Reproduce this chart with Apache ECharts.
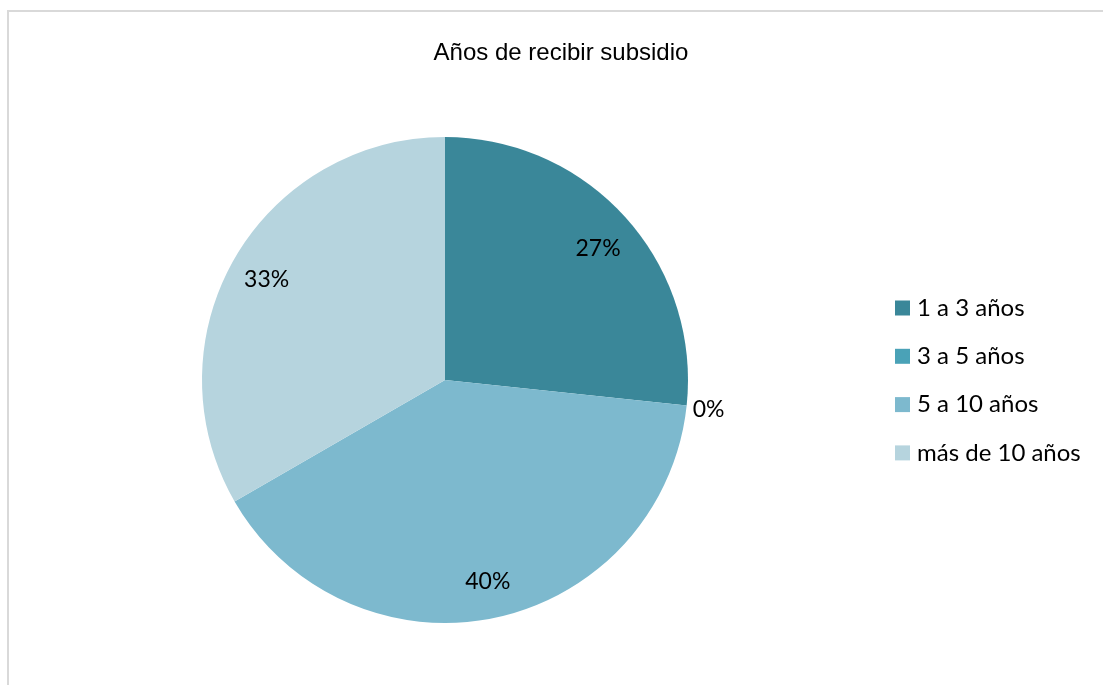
<!DOCTYPE html>
<html>
<head>
<meta charset="utf-8">
<script src="https://cdn.jsdelivr.net/npm/echarts@6/dist/echarts.min.js"></script>
<style>
  html, body { margin: 0; padding: 0; background: #fff; }
  #chart { width: 1103px; height: 685px; }
</style>
</head>
<body>
<div id="chart"></div>
<script>
// Categories, counts and colours of the pie
const categories = ['1 a 3 años', '3 a 5 años', '5 a 10 años', 'más de 10 años'];
const counts = [16, 0, 24, 20];
const colors = ['#3a8799', '#4aa2b7', '#7db9ce', '#b6d4de'];
const titleText = 'Años de recibir subsidio';

const chart = echarts.init(document.getElementById('chart'), null, { renderer: 'canvas' });

const center = [445, 380];
const labelFont = 'Lato, "Noto Sans", sans-serif';

const pieData = categories.map((name, i) => ({
  name: name,
  value: counts[i],
  itemStyle: { color: colors[i] }
}));

// Transparent ring used only to place the percentage labels
const labelData = categories.map((name, i) => {
  const item = { name: name, value: counts[i], itemStyle: { color: 'rgba(0,0,0,0)' } };
  if (counts[i] === 0) {
    item.label = { position: 'outside', distanceToLabelLine: 0 };
    item.labelLine = { show: false, length: 2, length2: 0 };
  }
  return item;
});

// Small nudges of individual percentage labels
const labelNudge = [{ dy: 6 }, { dx: 4, dy: 4 }, {}, { dy: 3 }];

chart.setOption({
  animation: false,
  color: colors,
  graphic: [{
    type: 'rect',
    shape: { x: 8, y: 11, width: 1200, height: 800 },
    style: { fill: 'none', stroke: '#d9d9d9', lineWidth: 2 },
    silent: true
  }],
  title: {
    text: titleText,
    left: 556,
    textAlign: 'center',
    top: 36,
    textStyle: {
      fontFamily: '"Liberation Sans", Arial, sans-serif',
      fontSize: 24,
      fontWeight: 'normal',
      color: '#000'
    }
  },
  legend: {
    orient: 'vertical',
    left: 895,
    top: 296,
    padding: 0,
    icon: 'rect',
    itemWidth: 15,
    itemHeight: 15,
    itemGap: 24.3,
    data: categories,
    textStyle: {
      fontFamily: labelFont,
      fontSize: 24,
      lineHeight: 24,
      color: '#000',
      padding: [0, 0, 0, 2]
    }
  },
  series: [
    {
      type: 'pie',
      center: center,
      radius: [0, 243],
      startAngle: 90,
      clockwise: true,
      silent: true,
      label: { show: false },
      labelLine: { show: false },
      itemStyle: { borderWidth: 0 },
      data: pieData
    },
    {
      type: 'pie',
      center: center,
      radius: [163, 243],
      startAngle: 90,
      clockwise: true,
      silent: true,
      avoidLabelOverlap: false,
      legendHoverLink: false,
      itemStyle: { borderWidth: 0 },
      label: {
        show: true,
        position: 'inside',
        formatter: p => Math.round(p.percent) + '%',
        fontFamily: labelFont,
        fontSize: 23,
        color: '#000'
      },
      labelLine: { show: false },
      labelLayout: p => labelNudge[p.dataIndex] || {},
      data: labelData
    }
  ]
});
</script>
</body>
</html>
